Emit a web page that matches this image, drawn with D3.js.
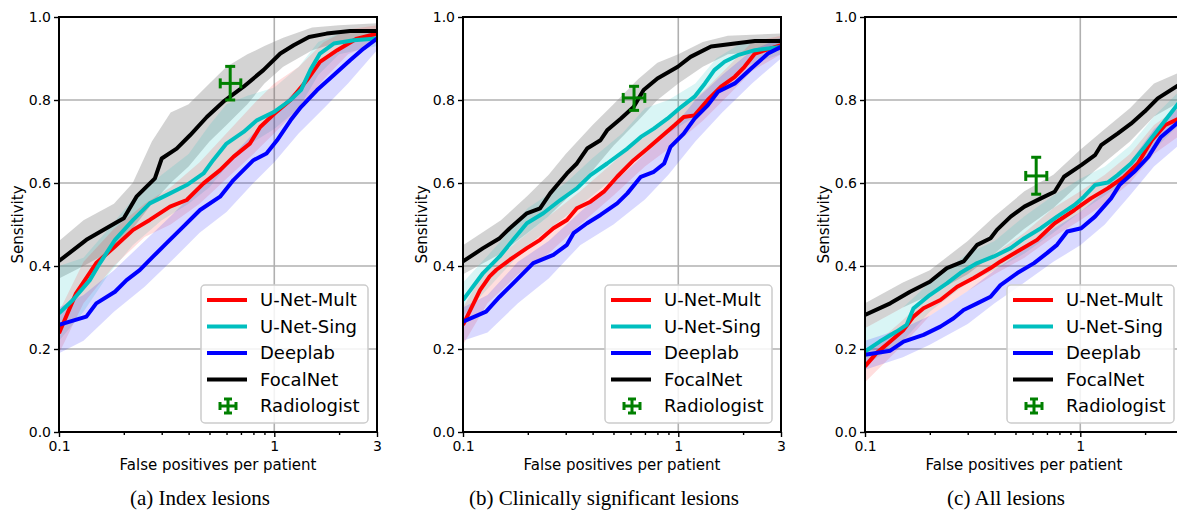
<!DOCTYPE html>
<html>
<head>
<meta charset="utf-8">
<script src="https://cdn.jsdelivr.net/npm/d3@7"></script>
<style>
  body { margin: 0; background: #fff; }
  text { font-family: "DejaVu Sans", sans-serif; }
  .caption { font-family: "Liberation Serif", "Times New Roman", serif; }
</style>
</head>
<body>
<svg id="chart" width="1177" height="511"></svg>
<script>
// ---- data ----
var seriesNames = ["U-Net-Mult", "U-Net-Sing", "Deeplab", "FocalNet"];
var seriesColors = ["#ff0000", "#00bfbf", "#0000ff", "#000000"];
var bandColors = ["#ff0000", "#00bfbf", "#0000ff", "#808080"];
var bandOpacity = [0.13, 0.15, 0.15, 0.35];
var captions = ["(a) Index lesions", "(b) Clinically significant lesions", "(c) All lesions"];
var xTicks = [0.1, 1, 3];
var xMinorTicks = [0.2, 0.3, 0.4, 0.5, 0.6, 0.7, 0.8, 0.9, 2];
var yTicks = [0, 0.2, 0.4, 0.6, 0.8, 1.0];

// (a) index lesions
var indexMult = [[0.1,0.238],[0.12,0.334],[0.149,0.407],[0.182,0.447],[0.221,0.487],[0.264,0.511],[0.328,0.543],[0.392,0.559],[0.469,0.599],[0.56,0.631],[0.646,0.663],[0.77,0.695],[0.86,0.735],[1.0,0.767],[1.19,0.80],[1.42,0.848],[1.63,0.892],[1.96,0.92],[2.42,0.948],[3,0.96]];
var indexSing = [[0.1,0.286],[0.116,0.318],[0.139,0.366],[0.155,0.407],[0.182,0.463],[0.221,0.511],[0.264,0.551],[0.328,0.575],[0.392,0.595],[0.469,0.623],[0.52,0.655],[0.6,0.695],[0.72,0.723],[0.83,0.751],[0.995,0.771],[1.19,0.80],[1.33,0.824],[1.47,0.872],[1.63,0.912],[1.89,0.936],[2.34,0.944],[3,0.948]];
var indexDeep = [[0.1,0.258],[0.134,0.278],[0.149,0.31],[0.182,0.338],[0.206,0.366],[0.237,0.39],[0.274,0.423],[0.316,0.455],[0.378,0.495],[0.452,0.535],[0.56,0.567],[0.646,0.607],[0.8,0.655],[0.92,0.671],[1.03,0.703],[1.19,0.751],[1.33,0.783],[1.58,0.824],[1.89,0.86],[2.25,0.896],[2.6,0.924],[3,0.948]];
var indexFocal = [[0.1,0.412],[0.134,0.463],[0.182,0.503],[0.2,0.515],[0.229,0.567],[0.279,0.611],[0.3,0.659],[0.352,0.683],[0.406,0.715],[0.486,0.759],[0.58,0.796],[0.72,0.832],[0.89,0.872],[1.067,0.912],[1.23,0.932],[1.45,0.952],[1.75,0.96],[2.25,0.966],[3,0.966]];
var indexMultBand = [[0.1,0.19,0.29],[0.13,0.31,0.41],[0.18,0.40,0.49],[0.25,0.47,0.55],[0.33,0.50,0.59],[0.45,0.55,0.65],[0.6,0.61,0.72],[0.8,0.67,0.79],[1.0,0.72,0.84],[1.3,0.78,0.88],[1.7,0.85,0.94],[2.2,0.91,0.97],[3,0.94,0.98]];
var indexSingBand = [[0.1,0.22,0.40],[0.13,0.29,0.42],[0.17,0.38,0.49],[0.22,0.45,0.56],[0.3,0.51,0.62],[0.4,0.55,0.67],[0.5,0.59,0.74],[0.6,0.64,0.79],[0.75,0.69,0.81],[1.0,0.73,0.83],[1.3,0.78,0.88],[1.6,0.86,0.94],[2,0.91,0.96],[3,0.93,0.97]];
var indexDeepBand = [[0.1,0.19,0.30],[0.13,0.22,0.33],[0.18,0.29,0.39],[0.25,0.35,0.46],[0.33,0.41,0.52],[0.45,0.48,0.59],[0.6,0.53,0.65],[0.8,0.60,0.72],[1.0,0.65,0.77],[1.3,0.72,0.83],[1.7,0.78,0.90],[2.2,0.84,0.94],[3,0.92,0.97]];
var indexFocalBand = [[0.1,0.37,0.46],[0.13,0.40,0.51],[0.18,0.44,0.55],[0.22,0.49,0.60],[0.27,0.55,0.70],[0.33,0.60,0.77],[0.4,0.64,0.79],[0.5,0.70,0.84],[0.6,0.74,0.88],[0.75,0.79,0.91],[0.9,0.84,0.93],[1.1,0.88,0.95],[1.5,0.92,0.975],[2,0.94,0.98],[3,0.95,0.985]];

// (b) clinically significant lesions
var sigMult = [[0.1,0.258],[0.12,0.342],[0.133,0.375],[0.143,0.391],[0.165,0.415],[0.198,0.443],[0.228,0.463],[0.263,0.491],[0.304,0.511],[0.338,0.539],[0.391,0.555],[0.451,0.579],[0.52,0.615],[0.62,0.655],[0.72,0.683],[0.83,0.711],[0.96,0.739],[1.06,0.759],[1.19,0.763],[1.37,0.80],[1.58,0.832],[1.83,0.856],[2.03,0.88],[2.27,0.912],[3,0.932]];
var sigSing = [[0.1,0.318],[0.124,0.383],[0.148,0.423],[0.171,0.463],[0.198,0.503],[0.236,0.527],[0.283,0.559],[0.338,0.587],[0.391,0.619],[0.467,0.647],[0.58,0.683],[0.67,0.711],[0.77,0.731],[0.89,0.755],[1.03,0.783],[1.19,0.808],[1.33,0.84],[1.47,0.872],[1.64,0.892],[1.89,0.908],[2.27,0.92],[3,0.928]];
var sigDeep = [[0.1,0.266],[0.128,0.29],[0.148,0.326],[0.171,0.358],[0.212,0.407],[0.263,0.427],[0.304,0.451],[0.326,0.479],[0.377,0.503],[0.435,0.523],[0.52,0.551],[0.58,0.575],[0.67,0.615],[0.77,0.627],[0.86,0.647],[0.92,0.687],[1.06,0.719],[1.19,0.755],[1.37,0.787],[1.53,0.82],[1.83,0.84],[2.18,0.876],[2.61,0.912],[3,0.928]];
var sigFocal = [[0.1,0.411],[0.124,0.443],[0.148,0.467],[0.165,0.491],[0.198,0.527],[0.228,0.539],[0.254,0.575],[0.304,0.623],[0.338,0.647],[0.377,0.683],[0.435,0.703],[0.467,0.727],[0.54,0.755],[0.62,0.783],[0.69,0.824],[0.8,0.852],[0.995,0.88],[1.14,0.904],[1.42,0.929],[1.83,0.936],[2.27,0.942],[3,0.942]];
var sigMultBand = [[0.1,0.21,0.30],[0.13,0.31,0.40],[0.18,0.38,0.46],[0.25,0.43,0.52],[0.35,0.50,0.58],[0.5,0.57,0.65],[0.7,0.64,0.72],[1.0,0.70,0.78],[1.3,0.75,0.82],[1.7,0.81,0.88],[2.2,0.87,0.94],[3,0.91,0.955]];
var sigSingBand = [[0.1,0.28,0.36],[0.15,0.38,0.46],[0.2,0.45,0.54],[0.3,0.52,0.60],[0.4,0.57,0.66],[0.55,0.63,0.72],[0.7,0.67,0.78],[0.9,0.72,0.80],[1.2,0.76,0.84],[1.5,0.81,0.90],[2,0.88,0.94],[3,0.91,0.95]];
var sigDeepBand = [[0.1,0.22,0.30],[0.13,0.24,0.33],[0.18,0.31,0.41],[0.25,0.37,0.46],[0.35,0.45,0.53],[0.5,0.50,0.60],[0.7,0.56,0.67],[0.9,0.62,0.72],[1.2,0.70,0.80],[1.6,0.77,0.86],[2.2,0.84,0.92],[3,0.90,0.95]];
var sigFocalBand = [[0.1,0.38,0.45],[0.15,0.43,0.51],[0.2,0.48,0.57],[0.25,0.52,0.62],[0.3,0.56,0.67],[0.4,0.63,0.74],[0.5,0.69,0.79],[0.65,0.75,0.85],[0.8,0.80,0.89],[1.0,0.84,0.91],[1.3,0.88,0.94],[1.7,0.91,0.955],[3,0.92,0.96]];

// (c) all lesions
var allMult = [[0.1,0.158],[0.113,0.19],[0.131,0.218],[0.151,0.246],[0.168,0.278],[0.187,0.298],[0.224,0.318],[0.268,0.35],[0.32,0.371],[0.383,0.395],[0.426,0.411],[0.51,0.435],[0.63,0.463],[0.76,0.503],[0.94,0.535],[1.12,0.563],[1.34,0.587],[1.6,0.615],[1.85,0.647],[2.15,0.703],[2.47,0.739],[2.86,0.755],[3,0.765]];
var allSing = [[0.1,0.194],[0.117,0.218],[0.14,0.242],[0.156,0.258],[0.168,0.298],[0.2,0.33],[0.24,0.358],[0.277,0.383],[0.332,0.407],[0.397,0.423],[0.475,0.443],[0.55,0.467],[0.656,0.491],[0.78,0.519],[0.94,0.547],[1.04,0.567],[1.17,0.595],[1.34,0.601],[1.49,0.619],[1.72,0.647],[1.99,0.687],[2.22,0.719],[2.55,0.759],[2.86,0.792],[3,0.80]];
var allDeep = [[0.1,0.186],[0.131,0.196],[0.151,0.218],[0.187,0.234],[0.224,0.254],[0.258,0.274],[0.287,0.294],[0.332,0.31],[0.383,0.326],[0.426,0.354],[0.51,0.383],[0.61,0.407],[0.7,0.431],[0.78,0.451],[0.87,0.483],[1.01,0.491],[1.17,0.519],[1.39,0.563],[1.52,0.595],[1.78,0.627],[2.07,0.663],[2.37,0.711],[2.86,0.747],[3,0.755]];
var allFocal = [[0.1,0.282],[0.131,0.31],[0.162,0.338],[0.2,0.362],[0.24,0.395],[0.287,0.411],[0.332,0.451],[0.383,0.467],[0.41,0.487],[0.475,0.519],[0.55,0.543],[0.656,0.563],[0.76,0.579],[0.84,0.615],[1.01,0.643],[1.17,0.667],[1.25,0.691],[1.49,0.719],[1.72,0.743],[1.99,0.772],[2.29,0.804],[2.86,0.836],[3,0.845]];
var allMultBand = [[0.1,0.12,0.19],[0.15,0.21,0.27],[0.2,0.28,0.33],[0.3,0.34,0.40],[0.4,0.38,0.43],[0.55,0.42,0.48],[0.75,0.47,0.54],[1.0,0.51,0.58],[1.3,0.55,0.62],[1.7,0.60,0.67],[2.2,0.67,0.74],[3,0.72,0.79]];
var allSingBand = [[0.1,0.16,0.25],[0.15,0.22,0.30],[0.2,0.29,0.36],[0.3,0.36,0.43],[0.4,0.39,0.46],[0.55,0.43,0.52],[0.75,0.48,0.57],[1.0,0.53,0.61],[1.3,0.57,0.64],[1.7,0.61,0.69],[2.2,0.68,0.76],[3,0.75,0.83]];
var allDeepBand = [[0.1,0.15,0.22],[0.15,0.18,0.25],[0.2,0.21,0.28],[0.3,0.26,0.34],[0.4,0.31,0.39],[0.55,0.36,0.44],[0.75,0.41,0.49],[1.0,0.45,0.53],[1.3,0.50,0.58],[1.7,0.57,0.65],[2.2,0.64,0.73],[3,0.70,0.79]];
var allFocalBand = [[0.1,0.25,0.31],[0.15,0.30,0.36],[0.2,0.33,0.39],[0.3,0.38,0.46],[0.4,0.43,0.52],[0.55,0.49,0.58],[0.75,0.54,0.62],[1.0,0.60,0.68],[1.3,0.65,0.73],[1.7,0.70,0.78],[2.2,0.76,0.84],[3,0.80,0.87]];

// radiologist: [fp, fpLow, fpHigh, sens, sensLow, sensHigh]
var radiologist = [
  [0.624, 0.561, 0.699, 0.840, 0.800, 0.881],
  [0.623, 0.555, 0.699, 0.805, 0.775, 0.833],
  [0.624, 0.558, 0.699, 0.617, 0.573, 0.662]
];

var panelLines = [
  [indexMult, indexSing, indexDeep, indexFocal],
  [sigMult, sigSing, sigDeep, sigFocal],
  [allMult, allSing, allDeep, allFocal]
];
var panelBands = [
  [indexMultBand, indexSingBand, indexDeepBand, indexFocalBand],
  [sigMultBand, sigSingBand, sigDeepBand, sigFocalBand],
  [allMultBand, allSingBand, allDeepBand, allFocalBand]
];

// ---- layout ----
var svg = d3.select("#chart");
var svgWidth = +svg.attr("width");
var panelLeft = [59, 463, 865];
var plotW = 318, plotTop = 17, plotBottom = 432;

var green = "#008000";

function drawErrorbar(g, cx, cy, x0, x1, y0, y1, cap) {
  g.append("line").attr("x1", x0).attr("x2", x1).attr("y1", cy).attr("y2", cy);
  g.append("line").attr("x1", cx).attr("x2", cx).attr("y1", y0).attr("y2", y1);
  g.append("line").attr("x1", x0).attr("x2", x0).attr("y1", cy - cap).attr("y2", cy + cap);
  g.append("line").attr("x1", x1).attr("x2", x1).attr("y1", cy - cap).attr("y2", cy + cap);
  g.append("line").attr("x1", cx - cap).attr("x2", cx + cap).attr("y1", y0).attr("y2", y0);
  g.append("line").attr("x1", cx - cap).attr("x2", cx + cap).attr("y1", y1).attr("y2", y1);
}

panelLeft.forEach(function(left, p) {
  var x = d3.scaleLog().domain([0.1, 3]).range([left, left + plotW]);
  var y = d3.scaleLinear().domain([0, 1]).range([plotBottom, plotTop]);

  var clipId = "clip" + p;
  svg.append("clipPath").attr("id", clipId)
    .append("rect")
    .attr("x", left).attr("y", plotTop)
    .attr("width", plotW).attr("height", plotBottom - plotTop);

  var graph = svg.append("g");

  // grid
  var grid = graph.append("g").attr("stroke", "#b0b0b0").attr("stroke-width", 1.6);
  grid.selectAll(".gy").data([0.2, 0.4, 0.6, 0.8]).enter().append("line")
    .attr("x1", left).attr("x2", left + plotW)
    .attr("y1", function(d) { return y(d); }).attr("y2", function(d) { return y(d); });
  grid.append("line")
    .attr("x1", x(1)).attr("x2", x(1)).attr("y1", plotTop).attr("y2", plotBottom);

  var inner = graph.append("g").attr("clip-path", "url(#" + clipId + ")");

  // confidence bands
  var area = d3.area()
    .x(function(d) { return x(d[0]); })
    .y0(function(d) { return y(d[1]); })
    .y1(function(d) { return y(d[2]); });
  [3, 1, 0, 2].forEach(function(s) {
    inner.append("path")
      .datum(panelBands[p][s])
      .attr("d", area)
      .attr("fill", bandColors[s])
      .attr("fill-opacity", bandOpacity[s])
      .attr("stroke", "none");
  });

  // curves
  var line = d3.line()
    .x(function(d) { return x(d[0]); })
    .y(function(d) { return y(d[1]); });
  [0, 1, 2, 3].forEach(function(s) {
    inner.append("path")
      .datum(panelLines[p][s])
      .attr("d", line)
      .attr("fill", "none")
      .attr("stroke", seriesColors[s])
      .attr("stroke-width", 4)
      .attr("stroke-linejoin", "round");
  });

  // radiologist
  var r = radiologist[p];
  var rg = graph.append("g").attr("stroke", green).attr("stroke-width", 3);
  drawErrorbar(rg, x(r[0]), y(r[3]), x(r[1]), x(r[2]), y(r[4]), y(r[5]), 5);

  // axes
  var yAxis = d3.axisLeft(y).tickValues(yTicks).tickFormat(d3.format(".1f")).tickSize(5).tickPadding(3);
  var gy = graph.append("g").attr("transform", "translate(" + left + ",0)").call(yAxis);
  // labels past the page edge are cropped away in the figure
  var xAxis = d3.axisBottom(x).tickValues(xTicks)
    .tickFormat(function(d) { return x(d) < svgWidth - 4 ? d : ""; })
    .tickSize(5).tickPadding(4);
  var gx = graph.append("g").attr("transform", "translate(0," + plotBottom + ")").call(xAxis);
  var xMinor = d3.axisBottom(x).tickValues(xMinorTicks).tickFormat("").tickSize(3);
  var gxm = graph.append("g").attr("transform", "translate(0," + plotBottom + ")").call(xMinor);
  [gy, gx, gxm].forEach(function(a) {
    a.select(".domain").remove();
    a.selectAll("line").attr("stroke", "#000").attr("stroke-width", 1.4);
    a.selectAll("text").attr("fill", "#000").style("font-size", "14px").style("font-family", "DejaVu Sans");
  });

  // spines
  graph.append("rect")
    .attr("x", left).attr("y", plotTop)
    .attr("width", plotW).attr("height", plotBottom - plotTop)
    .attr("fill", "none").attr("stroke", "#000").attr("stroke-width", 2);

  // labels
  graph.append("text")
    .attr("x", left + plotW / 2).attr("y", 470)
    .attr("text-anchor", "middle").style("font-size", "15px")
    .text("False positives per patient");
  graph.append("text")
    .attr("transform", "translate(" + (left - 36) + "," + ((plotTop + plotBottom) / 2) + ") rotate(-90)")
    .attr("text-anchor", "middle").style("font-size", "15px")
    .text("Sensitivity");
  graph.append("text")
    .attr("class", "caption")
    .attr("x", left + plotW / 2 - 18).attr("y", 505)
    .attr("text-anchor", "middle").style("font-size", "21px")
    .text(captions[p]);

  // legend
  var lw = 167, lh = 138;
  var lx = left + plotW - 9 - lw, ly = plotBottom - 9 - lh;
  var legend = graph.append("g").attr("transform", "translate(" + lx + "," + ly + ")");
  legend.append("rect")
    .attr("width", lw).attr("height", lh).attr("rx", 4)
    .attr("fill", "#fff").attr("fill-opacity", 0.85)
    .attr("stroke", "#cccccc").attr("stroke-width", 1.5);
  var rowY = function(i) { return 15 + i * 26.5; };
  seriesNames.forEach(function(name, s) {
    legend.append("line")
      .attr("x1", 6).attr("x2", 46)
      .attr("y1", rowY(s)).attr("y2", rowY(s))
      .attr("stroke", seriesColors[s]).attr("stroke-width", 4);
    legend.append("text")
      .attr("x", 59).attr("y", rowY(s)).attr("dy", "0.35em")
      .style("font-size", "18px").text(name);
  });
  var lg = legend.append("g").attr("stroke", green).attr("stroke-width", 3);
  drawErrorbar(lg, 27, rowY(4), 19, 35, rowY(4) - 7, rowY(4) + 7, 4);
  legend.append("text")
    .attr("x", 59).attr("y", rowY(4)).attr("dy", "0.35em")
    .style("font-size", "18px").text("Radiologist");
});
</script>
</body>
</html>
